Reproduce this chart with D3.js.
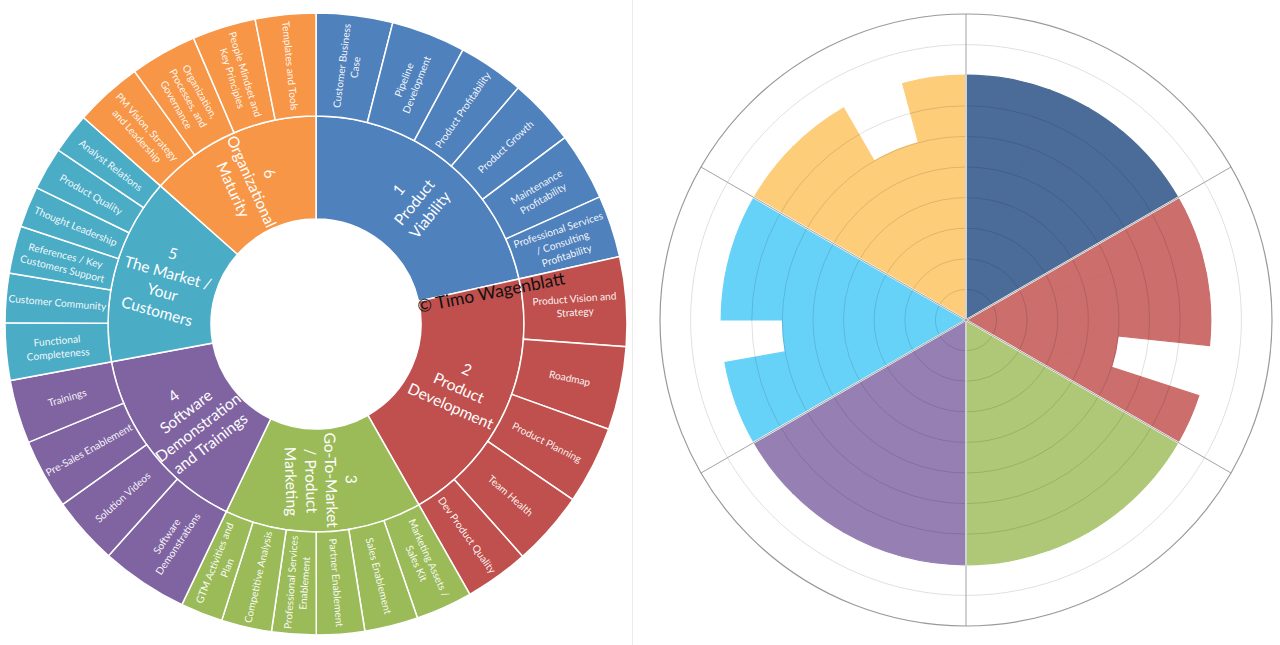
<!DOCTYPE html>
<html>
<head>
<meta charset="utf-8">
<script src="https://cdn.jsdelivr.net/npm/d3@7"></script>
<style>
html,body{margin:0;padding:0;background:#fff;}
svg{display:block;}
text{font-family:Lato,"Open Sans",sans-serif;}
</style>
</head>
<body>
<svg id="chart" width="1280" height="645"></svg>
<script>
// ---------- DATA ----------
const categoryLabels = [
  ["1","Product","Viability"],
  ["2","Product","Development"],
  ["3","Go-To-Market","/ Product","Marketing"],
  ["4","Software","Demonstration","and Trainings"],
  ["5","The Market /","Your","Customers"],
  ["6","Organizational","Maturity"]
];
const subItemLabels = [
  [["Customer Business","Case"],["Pipeline","Development"],["Product Profitability"],["Product Growth"],["Maintenance","Profitability"],["Professional Services","/ Consulting","Profitability"]],
  [["Product Vision and","Strategy"],["Roadmap"],["Product Planning"],["Team Health"],["Dev Product Quality"]],
  [["Marketing Assets /","Sales Kit"],["Sales Enablement"],["Partner Enablement"],["Professional Services","Enablement"],["Competitive Analysis"],["GTM  Activities and","Plan"]],
  [["Software","Demonstrations"],["Solution Videos"],["Pre-Sales Enablement"],["Trainings"]],
  [["Functional","Completeness"],["Customer Community"],["References / Key","Customers Support"],["Thought Leadership"],["Product Quality"],["Analyst Relations"]],
  [["PM  Vision, Strategy","and Leadership"],["Organization,","Processes, and","Governance"],["People Mindset and","Key Principles"],["Templates and Tools"]]
];
const sunburstWeights = [
  [14.3,13.9,12.4,12.6,12.7,11.6],
  [16.7,15.6,14.6,14.0,12.0],
  [10.6,10.0,9.0,8.3,9.4,7.9],
  [16.3,12.7,13.1,11.9],
  [10.7,9.2,8.9,7.7,8.0,7.6],
  [12.7,12.5,11.9,11.3]
];
// polar chart scores (0-10 scale)
const polarScores = [
  [8,8,8,8,8,8],
  [8,8,8,5,8],
  [8,8,8,8,8,8],
  [8,8,8,8],
  [8,8,6,8,8,8],
  [8,8,6,8]
];
const polarTicks = [1,2,3,4,5,6,7,9,10];
const sunburstColors = ["#4F81BD","#C0504D","#9BBB59","#8064A2","#4BACC6","#F79646"];
const polarColors = ["#4B6C98","#CB6E6C","#AEC877","#9680B3","#67D2F8","#FDCD7A"];
const copyrightText = "\u00A9 Timo Wagenblatt";

// ---------- SUNBURST ----------
const svg = d3.select("#chart");
const deg = 180/Math.PI;

// faint divider between the two pictures
svg.append("line").attr("x1",632.5).attr("x2",632.5).attr("y1",0).attr("y2",645)
  .attr("stroke","#ececec").attr("stroke-width",1);

const rootData = {name:"root", children: categoryLabels.map((lab,i)=>({
  name: lab, cat:i,
  children: subItemLabels[i].map((s,j)=>({name:s, cat:i, value: sunburstWeights[i][j]}))
}))};
const root = d3.hierarchy(rootData).sum(d=>d.value||0);
d3.partition().size([2*Math.PI, 3])(root);

const sbC = {x:316, y:324};
const rScale = d3.scaleLinear().domain([1,3]).range([105,311]);
const sbArc = d3.arc()
  .startAngle(d=>d.x0).endAngle(d=>d.x1)
  .innerRadius(d=>rScale(d.y0)).outerRadius(d=>rScale(d.y1));

const sb = svg.append("g").attr("transform",`translate(${sbC.x},${sbC.y})`);
const nodes = root.descendants().filter(d=>d.depth>0);
sb.selectAll("path").data(nodes).join("path")
  .attr("d",sbArc)
  .attr("fill",d=>sunburstColors[d.data.cat])
  .attr("stroke","#fff").attr("stroke-width",1.5);

function labelTransform(d){
  const a = (d.x0+d.x1)/2*deg;
  const r = rScale((d.y0+d.y1)/2);
  const x = r*Math.sin(a/deg), y = -r*Math.cos(a/deg);
  const rot = a < 180 ? a-90 : a-270;
  return `translate(${x},${y}) rotate(${rot})`;
}
const lbl = sb.selectAll("g.lbl").data(nodes).join("g").attr("class","lbl")
  .attr("transform",labelTransform);
lbl.each(function(d){
  const lines = d.data.name;
  const big = d.depth===1;
  const fs = big?15.5:10.2, lh = big?20:13.5;
  const t = d3.select(this).append("text")
    .attr("text-anchor","middle").attr("fill","#fff")
    .attr("font-size",fs).attr("fill-opacity", big?1:0.95);
  lines.forEach((ln,i)=>{
    t.append("tspan").attr("x",0)
      .attr("y",(i-(lines.length-1)/2)*lh)
      .attr("dominant-baseline","central")
      .text(ln);
  });
});

svg.append("text").attr("transform","translate(491,292) rotate(-11)")
  .attr("text-anchor","middle").attr("dominant-baseline","central")
  .attr("font-size",17.5).attr("fill","#111").text(copyrightText);

// ---------- POLAR AREA ----------
const pc = {x:966, y:320};
const pr = d3.scaleLinear().domain([0,10]).range([0,306]);
const pg = svg.append("g").attr("transform",`translate(${pc.x},${pc.y})`);
const catAngle = d3.scaleLinear().domain([0,polarScores.length]).range([0,2*Math.PI]);

const segs = [];
polarScores.forEach((vals,i)=>{
  const a0 = catAngle(i), a1 = catAngle(i+1);
  const step = (a1-a0)/vals.length;
  vals.forEach((v,j)=>segs.push({cat:i, s:a0+j*step, e:a0+(j+1)*step, v}));
});
const pArc = d3.arc().innerRadius(0).outerRadius(d=>pr(d.v))
  .startAngle(d=>d.s).endAngle(d=>d.e);
pg.selectAll("path.seg").data(segs).join("path").attr("class","seg")
  .attr("d",pArc).attr("fill",d=>polarColors[d.cat])
  .attr("stroke",d=>polarColors[d.cat]).attr("stroke-width",1.2)
  .attr("stroke-linejoin","miter");

// grid circles
pg.selectAll("circle.grid").data(polarTicks).join("circle").attr("class","grid")
  .attr("r",d=>pr(d)).attr("fill","none")
  .attr("stroke",d=>d===10?"#9a9a9a":"rgba(0,0,0,0.12)")
  .attr("stroke-width",d=>d===10?1.2:1);

// spokes at category boundaries
const spokeAngles = d3.range(polarScores.length).map(i=>catAngle(i));
pg.selectAll("line.gap").data(spokeAngles).join("line").attr("class","gap")
  .attr("x1",0).attr("y1",0)
  .attr("x2",a=>pr(8.05)*Math.sin(a)).attr("y2",a=>-pr(8.05)*Math.cos(a))
  .attr("stroke","#fff").attr("stroke-width",2);
pg.selectAll("line.spoke").data(spokeAngles).join("line").attr("class","spoke")
  .attr("x1",0).attr("y1",0)
  .attr("x2",a=>pr(10)*Math.sin(a)).attr("y2",a=>-pr(10)*Math.cos(a))
  .attr("stroke","#8c8c8c").attr("stroke-width",1).attr("stroke-opacity",0.8);
</script>
</body>
</html>
